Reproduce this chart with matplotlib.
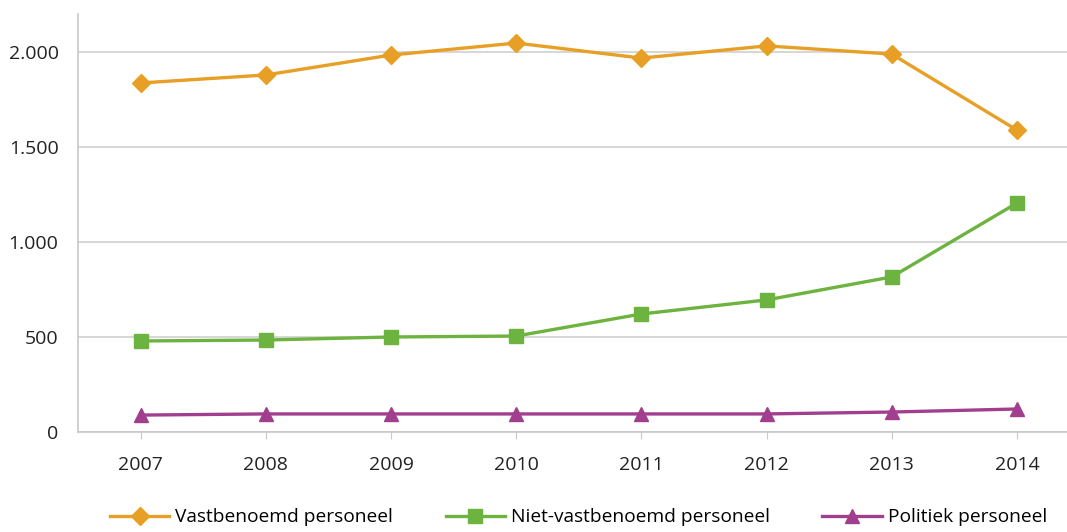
import matplotlib.pyplot as plt

years = ['2007', '2008', '2009', '2010', '2011', '2012', '2013', '2014']
vastbenoemd = [1837, 1879, 1984, 2047, 1968, 2032, 1989, 1589]
niet_vastbenoemd = [479, 484, 500, 505, 621, 695, 816, 1205]
politiek = [89, 95, 95, 95, 95, 95, 105, 121]

plt.rcParams['font.family'] = ['Open Sans', 'DejaVu Sans']

fig = plt.figure(figsize=(10.67, 5.32), dpi=100)
ax = fig.add_axes([0.0731, 0.188, 0.9269, 0.7857])

x = range(len(years))
ax.plot(x, vastbenoemd, color='#E89F26', lw=2.4, marker='D', ms=9,
        label='Vastbenoemd personeel')
ax.plot(x, niet_vastbenoemd, color='#6DB33F', lw=2.4, marker='s', ms=10,
        label='Niet-vastbenoemd personeel')
ax.plot(x, politiek, color='#A13E8E', lw=2.4, marker='^', ms=10,
        label='Politiek personeel')

ax.set_xlim(-0.5, 7.4)
ax.set_ylim(0, 2200)
ax.set_yticks([0, 500, 1000, 1500, 2000])
ax.set_yticklabels(['0', '500', '1.000', '1.500', '2.000'])
ax.set_xticks(list(x))
ax.set_xticklabels(years)
ax.yaxis.grid(True, color='#D0D0D0', lw=1.2)
ax.set_axisbelow(True)

for side in ['top', 'right']:
    ax.spines[side].set_visible(False)
for side in ['left', 'bottom']:
    ax.spines[side].set_color('#C8C8C8')
    ax.spines[side].set_linewidth(1.2)

ax.tick_params(axis='y', length=0, pad=14, labelsize=14, labelcolor='#222222')
ax.tick_params(axis='x', length=5, color='#C8C8C8', pad=12, labelsize=14,
               labelcolor='#222222')

fig.legend(loc='lower center', bbox_to_anchor=(0.542, -0.022), ncol=3,
           frameon=False, fontsize=13.8, handlelength=3.1, columnspacing=2.75,
           handletextpad=0.3)

fig.savefig('out.png', dpi=100)
